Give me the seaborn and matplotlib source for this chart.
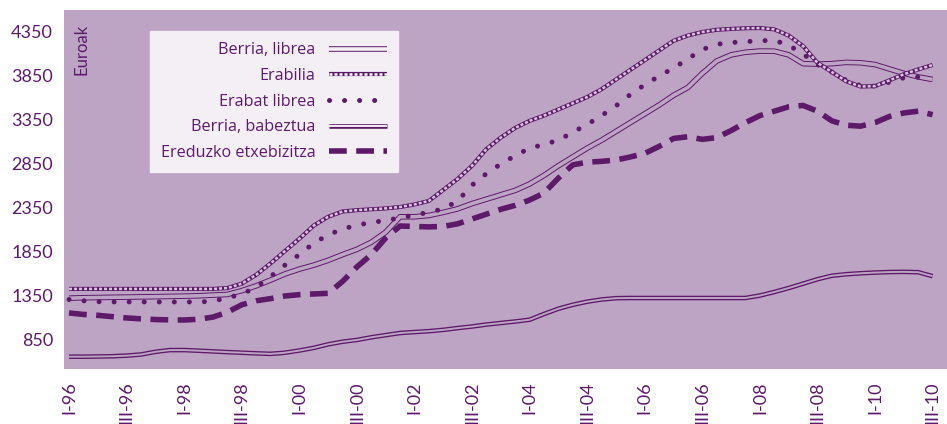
import matplotlib
matplotlib.use("Agg")
import matplotlib.pyplot as plt
from matplotlib.lines import Line2D
from matplotlib.legend_handler import HandlerTuple
import seaborn as sns
import numpy as np

# ---- data ----
tick_labels = ["I-96", "III-96", "I-98", "III-98", "I-00", "III-00", "I-02", "III-02",
               "I-04", "III-04", "I-06", "III-06", "I-08", "III-08", "I-10", "III-10"]

berria_librea = [1325, 1330, 1332, 1335, 1337, 1340, 1342, 1345, 1348, 1352,
                 1360, 1367, 1410, 1465, 1530, 1600, 1655, 1700, 1755, 1820,
                 1880, 1960, 2075, 2250, 2250, 2265, 2300, 2340, 2400, 2450,
                 2500, 2550, 2623, 2720, 2830, 2930, 3030, 3120, 3220, 3320,
                 3420, 3520, 3630, 3720, 3880, 4020, 4090, 4120, 4133, 4132,
                 4090, 3990, 3985, 3990, 4005, 4000, 3980, 3930, 3880, 3840, 3810]

erabilia = [1430, 1430, 1430, 1430, 1430, 1430, 1430, 1430, 1430, 1430,
            1430, 1440, 1490, 1590, 1720, 1860, 2000, 2150, 2250, 2310,
            2325, 2335, 2345, 2361, 2390, 2430, 2555, 2680, 2830, 3020,
            3150, 3260, 3340, 3400, 3470, 3540, 3610, 3700, 3810, 3920,
            4030, 4140, 4250, 4310, 4350, 4375, 4385, 4392, 4395, 4380,
            4310, 4190, 4000, 3895, 3790, 3730, 3735, 3800, 3870, 3925, 3975]

erabat_librea = [1310, 1295, 1285, 1282, 1282, 1282, 1282, 1282, 1282, 1282,
                 1290, 1330, 1370, 1450, 1570, 1700, 1820, 1950, 2045, 2110,
                 2155, 2185, 2208, 2238, 2270, 2300, 2340, 2430, 2610, 2740,
                 2850, 2945, 3030, 3072, 3120, 3210, 3300, 3400, 3510, 3640,
                 3750, 3850, 3940, 4045, 4150, 4210, 4230, 4240, 4250, 4255,
                 4200, 4100, 3980, 3895, 3800, 3740, 3735, 3780, 3830, 3839, 3830]

berria_babeztua = [660, 660, 662, 665, 672, 685, 715, 735, 735, 728,
                   720, 712, 705, 698, 692, 705, 730, 760, 800, 830,
                   850, 880, 905, 929, 940, 950, 965, 985, 1003, 1025,
                   1043, 1060, 1080, 1145, 1205, 1250, 1285, 1310, 1325, 1327,
                   1327, 1327, 1327, 1327, 1327, 1327, 1327, 1327, 1355, 1395,
                   1440, 1490, 1540, 1580, 1597, 1608, 1616, 1622, 1624, 1620, 1575]

ereduzko = [1157, 1140, 1130, 1115, 1100, 1090, 1082, 1078, 1077, 1085,
            1110, 1165, 1250, 1295, 1320, 1350, 1365, 1373, 1380, 1515,
            1680, 1820, 2010, 2145, 2140, 2135, 2140, 2170, 2225, 2280,
            2335, 2380, 2440, 2520, 2690, 2840, 2870, 2880, 2895, 2930,
            2970, 3050, 3140, 3160, 3130, 3150, 3230, 3320, 3400, 3450,
            3500, 3515, 3450, 3340, 3290, 3280, 3320, 3390, 3430, 3450, 3410]

labels = ["Berria, librea", "Erabilia", "Erabat librea", "Berria, babeztua",
          "Ereduzko etxebizitza"]
yticks = [850, 1350, 1850, 2350, 2850, 3350, 3850, 4350]

# ---- style ----
BG = "#bea4c4"
PURPLE = "#5c1a68"
LEGBG = "#f4eef5"
TXT = "#5c1a6b"
CHAIN_IN = "#d6c4da"

sns.set_style("white", {"axes.facecolor": BG})
plt.rcParams["font.family"] = ["Lato", "DejaVu Sans"]

fig = plt.figure(figsize=(9.47, 4.24), dpi=100)
ax = fig.add_axes([64 / 947, 55 / 424, 883 / 947, 359 / 424])
ax.set_facecolor(BG)

x = np.arange(len(berria_librea))

CHAIN_DASH = (0, (1.2, 0.8))
BUTT = dict(solid_capstyle="butt")

# Berria, babeztua: double line
sns.lineplot(x=x, y=berria_babeztua, ax=ax, color=PURPLE, linewidth=3.3, errorbar=None, **BUTT)
sns.lineplot(x=x, y=berria_babeztua, ax=ax, color=BG, linewidth=1.4, errorbar=None, **BUTT)

# Ereduzko etxebizitza: thick dashes
sns.lineplot(x=x, y=ereduzko, ax=ax, color=PURPLE, linewidth=4.0,
             linestyle=(0, (3.2, 1.7)), dash_capstyle="butt", errorbar=None)

# Berria, librea: thin double line
sns.lineplot(x=x, y=berria_librea, ax=ax, color=PURPLE, linewidth=4.0, errorbar=None, **BUTT)
sns.lineplot(x=x, y=berria_librea, ax=ax, color=BG, linewidth=2.6, errorbar=None, **BUTT)

# Erabat librea: round dots
sns.lineplot(x=x, y=erabat_librea, ax=ax, color=PURPLE, linewidth=3.6,
             linestyle=(0, (0.01, 3.0)), dash_capstyle="round", errorbar=None)

# Erabilia: chain of small open diamonds
sns.lineplot(x=x, y=erabilia, ax=ax, color=PURPLE, linewidth=3.0, errorbar=None, **BUTT)
sns.lineplot(x=x, y=erabilia, ax=ax, color=CHAIN_IN, linewidth=1.8,
             linestyle=CHAIN_DASH, errorbar=None)

ax.set_xlim(-0.35, 61.0)
ax.set_ylim(520, 4600)
ax.set_xticks(np.arange(0, len(x), 4))
ax.set_xticklabels(tick_labels, rotation=90)
ax.set_yticks(yticks)
ax.set_yticklabels([str(v) for v in yticks])
ax.tick_params(axis="both", length=0, labelcolor=TXT, labelsize=13)
ax.tick_params(axis="y", pad=8)
ax.tick_params(axis="x", pad=9)
for s in ax.spines.values():
    s.set_visible(False)
ax.set_xlabel("")
ax.set_ylabel("")

ax.text(0.011, 0.962, "Euroak", transform=ax.transAxes, rotation=90,
        ha="left", va="top", fontsize=12, color=TXT)

# ---- legend with proxy handles ----
h_lib = (Line2D([], [], color=PURPLE, lw=4.0, **BUTT),
         Line2D([], [], color=LEGBG, lw=2.6, **BUTT))
h_era = (Line2D([], [], color=PURPLE, lw=3.0, **BUTT),
         Line2D([], [], color="white", lw=1.8, linestyle=CHAIN_DASH))
h_dot = Line2D([], [], color=PURPLE, lw=3.6, linestyle=(0, (0.01, 3.0)),
               dash_capstyle="round")
h_bab = (Line2D([], [], color=PURPLE, lw=3.3, **BUTT),
         Line2D([], [], color=LEGBG, lw=1.4, **BUTT))
h_red = Line2D([], [], color=PURPLE, lw=4.0, linestyle=(0, (3.2, 1.7)))

leg = ax.legend([h_lib, h_era, h_dot, h_bab, h_red], labels,
                handler_map={tuple: HandlerTuple(ndivide=1, pad=0)},
                loc="upper left", bbox_to_anchor=(0.097, 0.9415), borderaxespad=0,
                markerfirst=False, frameon=True, fancybox=False,
                prop={"family": ["Open Sans", "DejaVu Sans"], "size": 11.6},
                handlelength=3.6, handletextpad=0.8, labelspacing=0.6,
                borderpad=0.7, labelcolor=TXT)
leg.get_frame().set_facecolor(LEGBG)
leg.get_frame().set_edgecolor(LEGBG)
leg.get_frame().set_alpha(1)

fig.savefig("out.png", dpi=100, facecolor="white")
